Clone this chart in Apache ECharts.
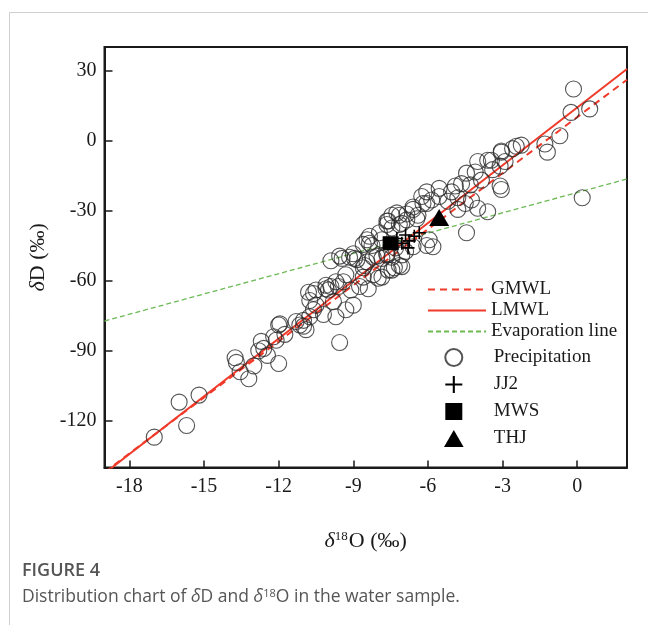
<!DOCTYPE html>
<html>
<head>
<meta charset="utf-8">
<script src="https://cdn.jsdelivr.net/npm/echarts@6/dist/echarts.min.js"></script>
<style>
  html, body { margin: 0; padding: 0; background: #fff; }
  #main { width: 648px; height: 625px; }
</style>
</head>
<body>
<div id="main"></div>
<script>
// tick positions
var xTicks = [-18, -15, -12, -9, -6, -3, 0];
var yTicks = [-120, -90, -60, -30, 0, 30];

// reference lines (end points, clipped by the axes)
var gmwlLine = [[-19, -142], [2, 26]];
var lmwlLine = [[-19, -142.5], [2, 30.6]];
var evapLine = [[-19, -77.3], [2, -16.5]];

// samples [d18O, dD]
var precipitation = [
  [-17.0, -127], [-16.0, -112], [-15.7, -122], [-15.2, -109],
  [-13.75, -93], [-13.7, -95], [-13.55, -99], [-13.2, -102], [-13.0, -96.5],
  [-12.7, -86], [-12.6, -89], [-12.45, -92], [-12.8, -90], [-12.1, -85.5],
  [-12.0, -95.5], [-12.0, -79], [-12.2, -84], [-11.75, -83], [-11.95, -78.5],
  [-11.3, -77.5], [-11.15, -79], [-11.0, -79.5], [-10.9, -81], [-11.0, -77],
  [-10.75, -75.5], [-10.6, -72.5], [-10.6, -65.5], [-10.5, -70.5], [-10.75, -68.5],
  [-10.2, -74.5], [-10.1, -63.5], [-10.0, -64], [-9.9, -62.5], [-9.8, -69],
  [-9.7, -75.5], [-9.6, -62.5], [-9.55, -86.5], [-9.4, -60.5], [-9.3, -72.5],
  [-9.1, -64], [-9.0, -70.5], [-9.3, -57.5], [-9.7, -60.5], [-10.1, -62],
  [-8.75, -62.5], [-8.6, -58.5], [-8.4, -63.5], [-8.95, -50.5], [-9.0, -48.5],
  [-8.45, -52], [-8.05, -49.5], [-7.85, -58.5], [-8.2, -57.5], [-7.45, -55.5],
  [-7.65, -48.5], [-8.35, -44], [-8.6, -44.5], [-8.35, -41], [-8.25, -45],
  [-8.2, -50], [-7.85, -50.5], [-8.6, -54.5], [-8.0, -59], [-7.6, -55.5],
  [-7.35, -54.5], [-7.05, -54], [-9.55, -49.5], [-9.15, -50], [-8.85, -51],
  [-8.55, -53.5], [-7.65, -49], [-7.45, -50], [-7.05, -49], [-7.15, -53.5],
  [-7.45, -37.5], [-7.65, -36], [-7.15, -32], [-7.05, -35.5], [-6.85, -34],
  [-6.6, -28.5], [-6.4, -32], [-6.25, -24], [-6.05, -27], [-7.3, -46],
  [-6.9, -47.5], [-6.6, -45.5], [-5.95, -42.5], [-5.8, -45.5], [-6.05, -45],
  [-7.95, -39.5], [-7.85, -42.5], [-7.45, -32], [-7.65, -34.5], [-7.15, -36],
  [-6.05, -22], [-5.85, -25.5], [-5.55, -24], [-5.55, -20.5], [-5.2, -26],
  [-5.05, -22], [-4.9, -19.5], [-4.65, -18.5], [-4.8, -24.5], [-4.5, -27],
  [-4.25, -25.5], [-4.0, -29], [-3.6, -30.5], [-4.8, -29.5], [-6.2, -27],
  [-6.6, -29.5], [-6.45, -33.5], [-6.85, -31.5], [-4.45, -39.5], [-4.3, -19],
  [-4.45, -14], [-4.1, -13.5], [-4.0, -9], [-3.6, -8.5], [-3.85, -17],
  [-3.1, -19.5], [-3.05, -4.5], [-3.05, -21], [-0.15, 22], [-0.25, 12],
  [0.5, 13.5], [-0.7, 2], [-1.3, -1.5], [-1.2, -5], [-2.25, -2],
  [-2.45, -2.5], [-2.6, -3.5], [-3.05, -5], [-2.9, -9], [-3.1, -11],
  [-3.45, -8.5], [-3.4, -12.5], [0.2, -24.5],
  [-9.45, -50.5], [-9.9, -51.5], [-10.5, -64], [-10.8, -65], [-8.45, -42.5],
  [-7.6, -34.5], [-7.25, -31]
];
var jj2 = [[-7.25, -42], [-7.05, -44], [-6.9, -40.5], [-6.75, -43], [-6.55, -41], [-6.35, -39.5], [-6.8, -46]];
var mws = [[-7.5, -44]];
var thj = [[-5.55, -33]];

var serif = 'Liberation Serif';
var plusPath = 'path://M5,0H6.4V5H11.4V6.4H6.4V11.4H5V6.4H0V5H5Z';
var squarePath = 'path://M0,0H10V10H0Z';
var trianglePath = 'path://M6,0L12,10.4H0Z';
var hiddenDot = { opacity: 0, borderWidth: 0 };

var chart = echarts.init(document.getElementById('main'), null, { renderer: 'canvas' });

chart.setOption({
  backgroundColor: '#fff',
  animation: false,
  grid: {
    left: 104.5, right: 21, top: 47, bottom: 157.5,
    show: true, borderColor: '#1a1a1a', borderWidth: 2, backgroundColor: 'transparent'
  },
  xAxis: {
    type: 'value', min: -19, max: 2,
    name: '{d|δ}{sup|18}O (‰)',
    nameLocation: 'middle', nameGap: 63,
    nameTextStyle: {
      fontFamily: serif, fontSize: 22, color: '#1a1a1a',
      rich: {
        d: { fontFamily: serif, fontSize: 22, fontStyle: 'italic', color: '#1a1a1a' },
        sup: { fontFamily: serif, fontSize: 13, verticalAlign: 'top', color: '#1a1a1a', padding: [0, 1, 8, 0] }
      }
    },
    axisLine: { onZero: false, lineStyle: { color: '#1a1a1a', width: 2 } },
    axisTick: { inside: true, length: 7, customValues: xTicks, lineStyle: { color: '#1a1a1a', width: 1.5 } },
    axisLabel: { customValues: xTicks, margin: 9, fontFamily: serif, fontSize: 20, color: '#1a1a1a' },
    splitLine: { show: false }
  },
  yAxis: {
    type: 'value', min: -140, max: 40,
    name: '{d|δ}D (‰)',
    nameLocation: 'middle', nameGap: 53, nameRotate: 90,
    nameTextStyle: {
      fontFamily: serif, fontSize: 22, color: '#1a1a1a',
      rich: {
        d: { fontFamily: serif, fontSize: 22, fontStyle: 'italic', color: '#1a1a1a' }
      }
    },
    axisLine: { onZero: false, lineStyle: { color: '#1a1a1a', width: 2 } },
    axisTick: { inside: true, length: 8, customValues: yTicks, lineStyle: { color: '#1a1a1a', width: 1.5 } },
    axisLabel: { customValues: yTicks, margin: 8, fontFamily: serif, fontSize: 20, color: '#1a1a1a' },
    splitLine: { show: false }
  },
  legend: [{
    data: [
      { name: 'GMWL', icon: 'inherit', itemStyle: hiddenDot },
      { name: 'LMWL', icon: 'inherit', itemStyle: hiddenDot },
      { name: 'Evaporation line', icon: 'inherit', itemStyle: hiddenDot }
    ],
    orient: 'vertical', left: 422, top: 275,
    itemWidth: 58, itemHeight: 14, itemGap: 2,
    selectedMode: false,
    textStyle: { fontFamily: serif, fontSize: 19, color: '#1a1a1a' }
  }, {
    data: [
      { name: 'Precipitation' },
      { name: 'JJ2', icon: plusPath },
      { name: 'MWS', icon: squarePath },
      { name: 'THJ', icon: trianglePath }
    ],
    orient: 'vertical', left: 439, top: 343,
    itemWidth: 70, itemHeight: 17, itemGap: 8,
    selectedMode: false,
    textStyle: { fontFamily: serif, fontSize: 19, color: '#1a1a1a' }
  }],
  series: [{
    name: 'Evaporation line', type: 'line', data: evapLine, symbol: 'none', z: 2,
    itemStyle: { color: '#6cba55' },
    lineStyle: { color: '#6cba55', width: 1.3, type: [5, 3] }
  }, {
    name: 'GMWL', type: 'line', data: gmwlLine, symbol: 'none', z: 3,
    itemStyle: { color: '#f03a2a' },
    lineStyle: { color: '#f03a2a', width: 2, type: [7, 5] }
  }, {
    name: 'LMWL', type: 'line', data: lmwlLine, symbol: 'none', z: 3,
    itemStyle: { color: '#f03a2a' },
    lineStyle: { color: '#f03a2a', width: 2 }
  }, {
    name: 'Precipitation', type: 'scatter', data: precipitation, symbol: 'circle', symbolSize: 16, z: 4,
    itemStyle: { color: 'rgba(255,255,255,0)', borderColor: '#2a2a2a', borderWidth: 1.1 }
  }, {
    name: 'JJ2', type: 'scatter', data: jj2, symbol: plusPath, symbolSize: 13, z: 5,
    itemStyle: { color: '#000', opacity: 1 }
  }, {
    name: 'MWS', type: 'scatter', data: mws, symbol: 'rect', symbolSize: [16, 14], z: 5,
    itemStyle: { color: '#000', opacity: 1 }
  }, {
    name: 'THJ', type: 'scatter', data: thj, symbol: 'triangle', symbolSize: [20, 17], z: 5,
    itemStyle: { color: '#000', opacity: 1 }
  }],
  graphic: [{
    type: 'rect', silent: true, z: -10,
    shape: { x: 9.5, y: 12.5, width: 700, height: 700 },
    style: { fill: 'none', stroke: '#cfcfcf', lineWidth: 1 }
  }, {
    type: 'text', left: 22, top: 562,
    style: { text: 'FIGURE 4', font: '600 18px "Open Sans"', fill: '#555' }
  }, {
    type: 'text', left: 22, top: 588,
    style: {
      text: 'Distribution chart of {i|δ}D and {i|δ}{s|18}O in the water sample.',
      font: '17.5px "Open Sans"', fill: '#555',
      rich: {
        i: { fontFamily: 'Open Sans', fontSize: 17.5, fontStyle: 'italic', fill: '#555' },
        s: { fontFamily: 'Open Sans', fontSize: 11, verticalAlign: 'top', fill: '#555', padding: [0, 0, 6, 0] }
      }
    }
  }]
});
</script>
</body>
</html>
